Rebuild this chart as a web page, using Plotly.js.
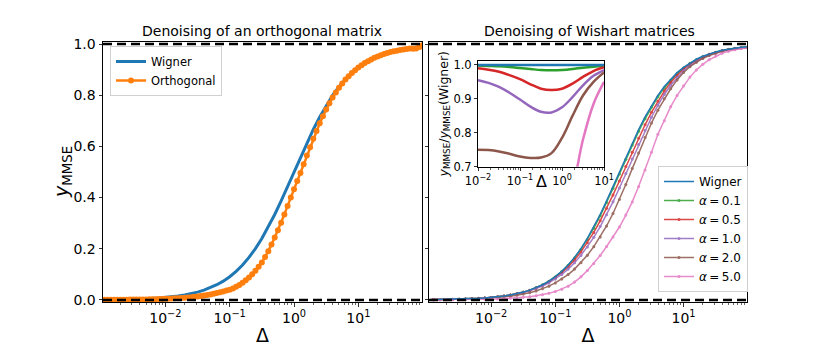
<!DOCTYPE html>
<html>
<head>
<meta charset="utf-8">
<script src="https://cdn.plot.ly/plotly-3.0.1.min.js"></script>
<style>
  html, body { margin: 0; padding: 0; background: #fff; }
  #chart { width: 830px; height: 346px; }
</style>
</head>
<body>
<div id="chart"></div>
<script>
// Delta grid (log spaced)
const delta = [0.001, 0.001259, 0.001585, 0.001995, 0.002512, 0.003162, 0.003981, 0.005012, 0.00631, 0.007943,
  0.01, 0.01259, 0.01585, 0.01995, 0.02512, 0.03162, 0.03981, 0.05012, 0.0631, 0.07943,
  0.1, 0.1259, 0.1585, 0.1995, 0.2512, 0.3162, 0.3981, 0.5012, 0.631, 0.7943,
  1, 1.259, 1.585, 1.995, 2.512, 3.162, 3.981, 5.012, 6.31, 7.943,
  10, 12.59, 15.85, 19.95, 25.12, 31.62, 39.81, 50.12, 63.1, 79.43, 100];

const wigner = [0.0010, 0.0013, 0.0016, 0.0020, 0.0025, 0.0032, 0.0040, 0.0050, 0.0063, 0.0079,
  0.0099, 0.0124, 0.0156, 0.0196, 0.0245, 0.0307, 0.0383, 0.0477, 0.0594, 0.0736,
  0.0909, 0.1118, 0.1368, 0.1663, 0.2008, 0.2403, 0.2847, 0.3339, 0.3869, 0.4427,
  0.5000, 0.5573, 0.6131, 0.6661, 0.7153, 0.7597, 0.7992, 0.8337, 0.8632, 0.8882,
  0.9091, 0.9264, 0.9406, 0.9523, 0.9617, 0.9693, 0.9755, 0.9804, 0.9844, 0.9876, 0.9901];

// orthogonal run was sampled twice as densely
const deltaOrth = [0.001, 0.001122, 0.001259, 0.001413, 0.001585, 0.001778, 0.001995, 0.002239, 0.002512, 0.002818,
  0.003162, 0.003548, 0.003981, 0.004467, 0.005012, 0.005623, 0.00631, 0.007079, 0.007943, 0.008913,
  0.01, 0.01122, 0.01259, 0.01413, 0.01585, 0.01778, 0.01995, 0.02239, 0.02512, 0.02818,
  0.03162, 0.03548, 0.03981, 0.04467, 0.05012, 0.05623, 0.0631, 0.07079, 0.07943, 0.08913,
  0.1, 0.1122, 0.1259, 0.1413, 0.1585, 0.1778, 0.1995, 0.2239, 0.2512, 0.2818,
  0.3162, 0.3548, 0.3981, 0.4467, 0.5012, 0.5623, 0.631, 0.7079, 0.7943, 0.8913,
  1, 1.122, 1.259, 1.413, 1.585, 1.778, 1.995, 2.239, 2.512, 2.818,
  3.162, 3.548, 3.981, 4.467, 5.012, 5.623, 6.31, 7.079, 7.943, 8.913,
  10, 11.22, 12.59, 14.13, 15.85, 17.78, 19.95, 22.39, 25.12, 28.18,
  31.62, 35.48, 39.81, 44.67, 50.12, 56.23, 63.1, 70.79, 79.43, 89.13, 100];

const orthogonal = [0.0005, 0.0005, 0.0006, 0.0006, 0.0007, 0.0008, 0.0009, 0.0010, 0.0011, 0.0013,
  0.0014, 0.0016, 0.0018, 0.0020, 0.0022, 0.0025, 0.0028, 0.0032, 0.0036, 0.0040,
  0.0045, 0.0050, 0.0056, 0.0063, 0.0070, 0.0079, 0.0088, 0.0099, 0.0110, 0.0123,
  0.0138, 0.0154, 0.0172, 0.0192, 0.0215, 0.0240, 0.0267, 0.0298, 0.0331, 0.0365,
  0.0400, 0.0452, 0.0514, 0.0587, 0.0670, 0.0770, 0.0881, 0.1006, 0.1145, 0.1297,
  0.1466, 0.1675, 0.1907, 0.2163, 0.2437, 0.2722, 0.3018, 0.3340, 0.3674, 0.4000,
  0.4325, 0.4645, 0.4960, 0.5300, 0.5641, 0.5970, 0.6295, 0.6605, 0.6903, 0.7180,
  0.7445, 0.7685, 0.7912, 0.8110, 0.8295, 0.8460, 0.8615, 0.8745, 0.8868, 0.8980,
  0.9080, 0.9170, 0.9255, 0.9330, 0.9398, 0.9460, 0.9515, 0.9565, 0.9610, 0.9650,
  0.9686, 0.9715, 0.9740, 0.9765, 0.9790, 0.9810, 0.9830, 0.9820, 0.9825, 0.9880, 0.9960];

const alpha01 = [0.0010, 0.0013, 0.0016, 0.0020, 0.0025, 0.0032, 0.0040, 0.0050, 0.0063, 0.0079,
  0.0099, 0.0124, 0.0156, 0.0195, 0.0244, 0.0306, 0.0381, 0.0474, 0.0590, 0.0730,
  0.0901, 0.1107, 0.1353, 0.1641, 0.1980, 0.2367, 0.2804, 0.3286, 0.3807, 0.4361,
  0.4925, 0.5495, 0.6051, 0.6588, 0.7081, 0.7536, 0.7936, 0.8287, 0.8589, 0.8846,
  0.9064, 0.9245, 0.9387, 0.9504, 0.9598, 0.9677, 0.9740, 0.9794, 0.9834, 0.9866, 0.9891];

const alpha05 = [0.0010, 0.0013, 0.0016, 0.0020, 0.0025, 0.0032, 0.0040, 0.0050, 0.0062, 0.0078,
  0.0098, 0.0123, 0.0154, 0.0193, 0.0241, 0.0301, 0.0374, 0.0464, 0.0575, 0.0709,
  0.0871, 0.1064, 0.1294, 0.1563, 0.1877, 0.2235, 0.2639, 0.3092, 0.3583, 0.4104,
  0.4650, 0.5211, 0.5769, 0.6321, 0.6845, 0.7331, 0.7768, 0.8162, 0.8494, 0.8784,
  0.9027, 0.9218, 0.9368, 0.9494, 0.9598, 0.9674, 0.9735, 0.9784, 0.9824, 0.9856, 0.9881];

const alpha10 = [0.0010, 0.0013, 0.0015, 0.0019, 0.0024, 0.0031, 0.0038, 0.0048, 0.0060, 0.0076,
  0.0095, 0.0118, 0.0148, 0.0185, 0.0230, 0.0287, 0.0355, 0.0439, 0.0543, 0.0667,
  0.0816, 0.0994, 0.1205, 0.1452, 0.1741, 0.2071, 0.2448, 0.2868, 0.3331, 0.3834,
  0.4375, 0.4938, 0.5506, 0.6075, 0.6624, 0.7141, 0.7608, 0.8029, 0.8390, 0.8695,
  0.8955, 0.9162, 0.9331, 0.9466, 0.9569, 0.9654, 0.9726, 0.9775, 0.9814, 0.9846, 0.9871];

const alpha20 = [0.0008, 0.0010, 0.0012, 0.0015, 0.0019, 0.0024, 0.0030, 0.0038, 0.0047, 0.0059,
  0.0074, 0.0093, 0.0117, 0.0147, 0.0183, 0.0229, 0.0284, 0.0353, 0.0437, 0.0539,
  0.0664, 0.0814, 0.0993, 0.1206, 0.1458, 0.1747, 0.2081, 0.2461, 0.2890, 0.3378,
  0.3925, 0.4514, 0.5132, 0.5742, 0.6345, 0.6913, 0.7417, 0.7862, 0.8252, 0.8598,
  0.8891, 0.9116, 0.9293, 0.9437, 0.9550, 0.9645, 0.9716, 0.9775, 0.9815, 0.9846, 0.9871];

const alpha50 = [0.0003, 0.0004, 0.0005, 0.0006, 0.0008, 0.0010, 0.0013, 0.0016, 0.0020, 0.0025,
  0.0032, 0.0040, 0.0050, 0.0064, 0.0081, 0.0101, 0.0128, 0.0162, 0.0205, 0.0258,
  0.0327, 0.0419, 0.0540, 0.0698, 0.0904, 0.1153, 0.1424, 0.1736, 0.2089, 0.2457,
  0.2850, 0.3316, 0.3832, 0.4430, 0.5079, 0.5774, 0.6474, 0.7003, 0.7553, 0.7994,
  0.8364, 0.8708, 0.8983, 0.9209, 0.9386, 0.9528, 0.9638, 0.9716, 0.9775, 0.9827, 0.9861];

// inset: ratio y_MMSE / y_MMSE(Wigner)
const deltaInset = [0.01, 0.01778, 0.03162, 0.05623, 0.1, 0.1778, 0.3162, 0.5623, 1, 1.778, 3.162, 5.623, 10];
const ratioWigner = [1, 1, 1, 1, 1, 1, 1, 1, 1, 1, 1, 1, 1];
const ratio01 = [0.998, 0.997, 0.996, 0.994, 0.991, 0.988, 0.985, 0.984, 0.985, 0.988, 0.992, 0.995, 0.997];
const ratio05 = [0.990, 0.986, 0.980, 0.970, 0.958, 0.943, 0.930, 0.926, 0.930, 0.945, 0.965, 0.982, 0.993];
const ratio10 = [0.955, 0.947, 0.935, 0.918, 0.898, 0.877, 0.862, 0.860, 0.875, 0.905, 0.940, 0.968, 0.985];
const ratio20 = [0.750, 0.749, 0.745, 0.738, 0.730, 0.726, 0.727, 0.740, 0.785, 0.850, 0.910, 0.950, 0.978];
const ratio50 = [0.32, 0.32, 0.33, 0.34, 0.36, 0.41, 0.48, 0.53, 0.57, 0.64, 0.78, 0.885, 0.95];

const alphaLabels = ['<i>α</i>\u2009=\u20090.1', '<i>α</i>\u2009=\u20090.5', '<i>α</i>\u2009=\u20091.0',
  '<i>α</i>\u2009=\u20092.0', '<i>α</i>\u2009=\u20095.0'];
const alphaSeries = [alpha01, alpha05, alpha10, alpha20, alpha50];
const ratioSeries = [ratio01, ratio05, ratio10, ratio20, ratio50];
const alphaColors = ['#2ca02c', '#d62728', '#9467bd', '#8c564b', '#e377c2'];

const majorVals = [0.01, 0.1, 1, 10];
const majorText = ['10<sup>−2</sup>', '10<sup>−1</sup>', '10<sup>0</sup>', '10<sup>1</sup>'];
let minorVals = [];
for (let e = -3; e <= 1; e++) {
    for (let m = 2; m <= 9; m++) minorVals.push(m * Math.pow(10, e));
}

const FONT = 'DejaVu Sans, sans-serif';
const W = 830, H = 346;

let traces = [];
// left panel
traces.push({
    x: delta, y: wigner, xaxis: 'x', yaxis: 'y', name: 'Wigner',
    mode: 'lines', line: {color: '#1f77b4', width: 3}, legend: 'legend'
});
traces.push({
    x: deltaOrth, y: orthogonal, xaxis: 'x', yaxis: 'y', name: 'Orthogonal',
    mode: 'lines+markers', line: {color: '#ff7f0e', width: 2.5},
    marker: {color: '#ff7f0e', size: 6},
    error_y: {type: 'constant', value: 0.006, color: '#ff7f0e', thickness: 1.5, width: 0},
    legend: 'legend'
});
// right panel
alphaSeries.forEach(function (s, i) {
    traces.push({
        x: delta, y: s, xaxis: 'x2', yaxis: 'y2', name: alphaLabels[i],
        mode: 'lines+markers', line: {color: alphaColors[i], width: 1.5},
        marker: {color: alphaColors[i], size: 3},
        error_y: {type: 'constant', value: 0.005, color: alphaColors[i], thickness: 1, width: 0},
        opacity: 0.85, legend: 'legend2', legendrank: 2 + i
    });
});
traces.push({
    x: delta, y: wigner, xaxis: 'x2', yaxis: 'y2', name: 'Wigner',
    mode: 'lines', line: {color: '#1f77b4', width: 1.5}, legend: 'legend2', legendrank: 1
});
// inset
ratioSeries.forEach(function (s, i) {
    traces.push({
        x: deltaInset, y: s, xaxis: 'x3', yaxis: 'y3', showlegend: false,
        mode: 'lines', line: {color: alphaColors[i], width: 2.5, shape: 'spline'}
    });
});
traces.push({
    x: deltaInset, y: ratioWigner, xaxis: 'x3', yaxis: 'y3', showlegend: false,
    mode: 'lines', line: {color: '#1f77b4', width: 2.5}
});

function logAxis(domain, anchor) {
    return {
        type: 'log', domain: domain, anchor: anchor, range: [-2.97, 1.99],
        tickmode: 'array', tickvals: majorVals, ticktext: majorText,
        ticks: 'outside', ticklen: 3.5, tickwidth: 0.8, tickcolor: '#000',
        minor: {tickmode: 'array', tickvals: minorVals, ticks: 'outside', ticklen: 2, tickwidth: 0.6, tickcolor: '#000'},
        showline: true, mirror: true, linecolor: '#000', linewidth: 1,
        showgrid: false, zeroline: false,
        tickfont: {family: FONT, size: 14, color: '#000'},
        title: {text: 'Δ', font: {family: FONT, size: 19, color: '#000'}, standoff: 4}
    };
}
function linAxis(domain, anchor, showLabels) {
    return {
        domain: domain, anchor: anchor, range: [-0.008, 1.008],
        tickmode: 'array', tickvals: [0, 0.2, 0.4, 0.6, 0.8, 1.0], tickformat: '.1f',
        showticklabels: showLabels,
        ticks: 'outside', ticklen: 3.5, tickwidth: 0.8, tickcolor: '#000',
        showline: true, mirror: true, linecolor: '#000', linewidth: 1,
        showgrid: false, zeroline: false,
        tickfont: {family: FONT, size: 14, color: '#000'}
    };
}

const yDomain = [1 - 302 / H, 1 - 42 / H];
let layout = {
    width: W, height: H,
    margin: {l: 0, r: 0, t: 0, b: 0},
    paper_bgcolor: '#fff', plot_bgcolor: '#fff',
    font: {family: FONT, color: '#000'},
    xaxis: logAxis([103 / W, 422 / W], 'y'),
    yaxis: linAxis(yDomain, 'x', true),
    xaxis2: logAxis([429 / W, 747 / W], 'y2'),
    yaxis2: linAxis(yDomain, 'x2', false),
    xaxis3: {
        type: 'log', domain: [478 / W, 604 / W], anchor: 'y3', range: [-2, 1],
        tickmode: 'array', tickvals: majorVals, ticktext: majorText,
        ticks: 'outside', ticklen: 3, tickwidth: 0.8, tickcolor: '#000',
        minor: {tickmode: 'array', tickvals: minorVals, ticks: 'outside', ticklen: 1.8, tickwidth: 0.6, tickcolor: '#000'},
        showline: true, mirror: true, linecolor: '#000', linewidth: 1,
        showgrid: false, zeroline: false,
        tickfont: {family: FONT, size: 11.5, color: '#000'}
    },
    yaxis3: {
        domain: [1 - 166.7 / H, 1 - 60.7 / H], anchor: 'x3', range: [0.7, 1.0125],
        tickmode: 'array', tickvals: [0.7, 0.8, 0.9, 1.0], tickformat: '.1f',
        ticks: 'outside', ticklen: 3, tickwidth: 0.8, tickcolor: '#000',
        showline: true, mirror: true, linecolor: '#000', linewidth: 1,
        showgrid: false, zeroline: false,
        tickfont: {family: FONT, size: 11.5, color: '#000'},
        title: {text: '<i>y</i><sub>MMSE</sub>/<i>y</i><sub>MMSE</sub>(Wigner)', font: {family: FONT, size: 12.5, color: '#000'}, standoff: 2}
    },
    legend: {
        x: 110 / W, y: 1 - 46 / H, xanchor: 'left', yanchor: 'top',
        bgcolor: '#fff', bordercolor: '#d0d0d0', borderwidth: 1,
        font: {family: FONT, size: 11.5, color: '#000'}, tracegroupgap: 0
    },
    legend2: {
        x: 658 / W, y: 1 - 292 / H, xanchor: 'left', yanchor: 'bottom',
        bgcolor: '#fff', bordercolor: '#d0d0d0', borderwidth: 1,
        font: {family: FONT, size: 12, color: '#000'}, tracegroupgap: 0
    },
    shapes: [
        {type: 'line', xref: 'x domain', yref: 'y', x0: 0, x1: 1, y0: 1, y1: 1, line: {color: '#000', width: 2.5, dash: '9px,5px'}},
        {type: 'line', xref: 'x domain', yref: 'y', x0: 0, x1: 1, y0: 0, y1: 0, line: {color: '#000', width: 2.5, dash: '9px,5px'}},
        {type: 'line', xref: 'x2 domain', yref: 'y2', x0: 0, x1: 1, y0: 1, y1: 1, line: {color: '#000', width: 2.5, dash: '9px,5px'}},
        {type: 'line', xref: 'x2 domain', yref: 'y2', x0: 0, x1: 1, y0: 0, y1: 0, line: {color: '#000', width: 2.5, dash: '9px,5px'}}
    ],
    annotations: [
        {text: 'Denoising of an orthogonal matrix', xref: 'paper', yref: 'paper', x: 262 / W, y: 1 - 31 / H,
         xanchor: 'center', yanchor: 'middle', showarrow: false, font: {family: FONT, size: 14, color: '#000'}},
        {text: 'Denoising of Wishart matrices', xref: 'paper', yref: 'paper', x: 589 / W, y: 1 - 31 / H,
         xanchor: 'center', yanchor: 'middle', showarrow: false, font: {family: FONT, size: 14, color: '#000'}},
        {text: '<i>y</i><sub>MMSE</sub>', xref: 'paper', yref: 'paper', x: 62 / W, y: 1 - 172 / H, textangle: -90,
         xanchor: 'center', yanchor: 'middle', showarrow: false, font: {family: FONT, size: 19, color: '#000'}},
        {text: 'Δ', xref: 'paper', yref: 'paper', x: 541 / W, y: 1 - 181 / H,
         xanchor: 'center', yanchor: 'middle', showarrow: false, font: {family: FONT, size: 16, color: '#000'}}
    ]
};

Plotly.newPlot('chart', traces, layout, {displayModeBar: false, staticPlot: true});
</script>
</body>
</html>
